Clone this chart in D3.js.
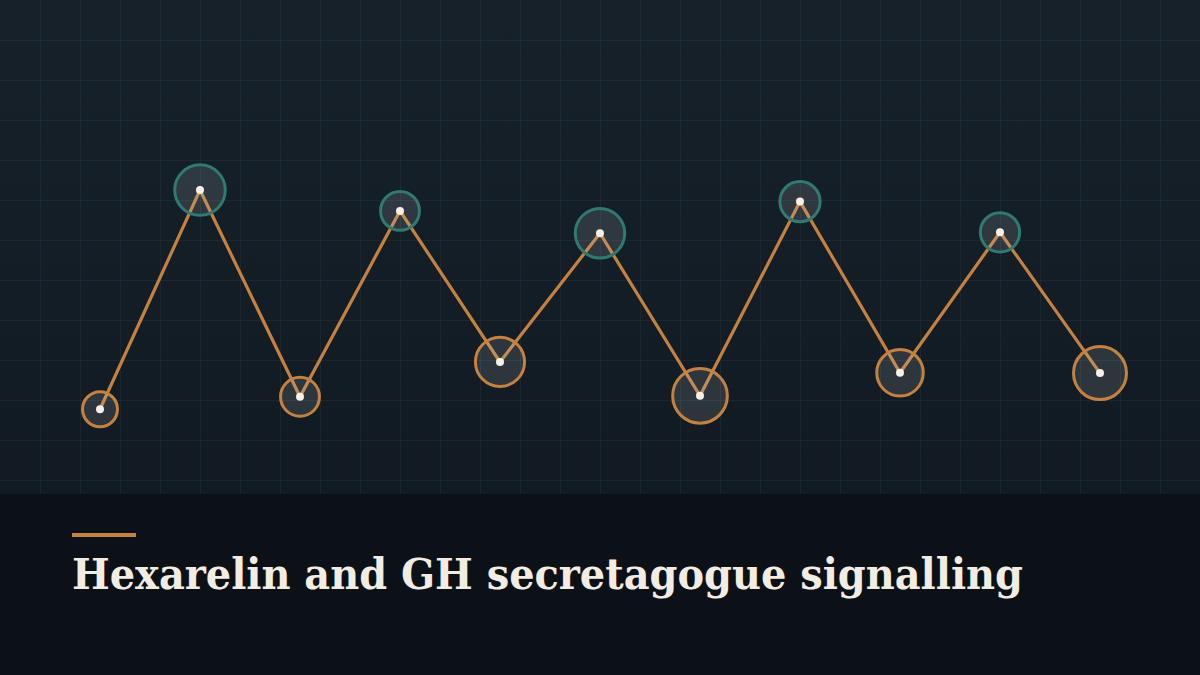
<!DOCTYPE html>
<html>
<head>
<meta charset="utf-8">
<script src="https://cdn.jsdelivr.net/npm/d3@7"></script>
<style>
  html, body { margin: 0; padding: 0; background: #0d1218; }
  svg { display: block; }
</style>
</head>
<body>
<div id="chart"></div>
<script>
var width = 1200,
    height = 675,
    bandTop = 494;

// data
var steps = [1, 2, 3, 4, 5, 6, 7, 8, 9, 10, 11];
var signal = [22.1, 90.6, 26.0, 84.1, 36.9, 77.1, 26.3, 87.0, 33.5, 77.4, 33.4];
var weight = [34, 71, 42, 42, 67, 68, 83, 45, 60, 43, 78];
var phase = ["trough", "peak", "trough", "peak", "trough", "peak", "trough", "peak", "trough", "peak", "trough"];
var title = "Hexarelin and GH secretagogue signalling";

var svg = d3.select("#chart").append("svg")
    .attr("width", width)
    .attr("height", height);

var defs = svg.append("defs");
var grad = defs.append("linearGradient")
    .attr("id", "bg")
    .attr("x1", 0).attr("y1", 0).attr("x2", 0).attr("y2", 1);
grad.append("stop").attr("offset", "0%").attr("stop-color", "#16212a");
grad.append("stop").attr("offset", "100%").attr("stop-color", "#10181f");

svg.append("rect")
    .attr("width", width)
    .attr("height", height)
    .attr("fill", "url(#bg)");

// grid every 40px
var grid = svg.append("g").attr("stroke", "rgba(140,180,195,0.07)").attr("stroke-width", 1);
grid.selectAll(".v")
    .data(d3.range(40, width, 40))
    .enter().append("line")
    .attr("x1", function (d) { return d + 0.5; })
    .attr("x2", function (d) { return d + 0.5; })
    .attr("y1", 0).attr("y2", height);
grid.selectAll(".h")
    .data(d3.range(40, height, 40))
    .enter().append("line")
    .attr("y1", function (d) { return d + 0.5; })
    .attr("y2", function (d) { return d + 0.5; })
    .attr("x1", 0).attr("x2", width);

// scales
var x = d3.scalePoint()
    .domain(steps)
    .range([100, 1100]);
var y = d3.scaleLinear()
    .domain([0, 100])
    .range([480, 160]);
var r = d3.scaleSqrt()
    .domain([0, 100])
    .range([0, 30]);
var stroke = d3.scaleOrdinal()
    .domain(["peak", "trough"])
    .range(["#2f7a71", "#c4813f"]);

var data = steps.map(function (s, i) {
    return { step: s, value: signal[i], weight: weight[i], phase: phase[i] };
});

var line = d3.line()
    .x(function (d) { return x(d.step); })
    .y(function (d) { return y(d.value); });

svg.append("path")
    .datum(data)
    .attr("fill", "none")
    .attr("stroke", "#c4813f")
    .attr("stroke-width", 3.2)
    .attr("stroke-linejoin", "miter")
    .attr("d", line);

svg.selectAll(".ring")
    .data(data)
    .enter().append("circle")
    .attr("class", "ring")
    .attr("cx", function (d) { return x(d.step); })
    .attr("cy", function (d) { return y(d.value); })
    .attr("r", function (d) { return r(d.weight); })
    .attr("fill", "rgba(200,205,210,0.15)")
    .attr("stroke", function (d) { return stroke(d.phase); })
    .attr("stroke-width", 3);

svg.selectAll(".dot")
    .data(data)
    .enter().append("circle")
    .attr("class", "dot")
    .attr("cx", function (d) { return x(d.step); })
    .attr("cy", function (d) { return y(d.value); })
    .attr("r", 4)
    .attr("fill", "#f6f0e6");

// caption band
svg.append("rect")
    .attr("y", bandTop)
    .attr("width", width)
    .attr("height", height - bandTop)
    .attr("fill", "rgba(12,17,22,0.9)");

svg.append("rect")
    .attr("x", 72)
    .attr("y", 533)
    .attr("width", 64)
    .attr("height", 4)
    .attr("fill", "#c4813f");

var t = svg.append("text")
    .attr("x", 72)
    .attr("y", 589)
    .attr("fill", "#f2ece2")
    .style("font-family", "'DejaVu Serif', Georgia, serif")
    .style("font-weight", "bold")
    .style("font-size", "42px")
    .text(title);

var w = t.node().getComputedTextLength();
if (Math.abs(w - 951) > 4) {
    t.attr("textLength", 951).attr("lengthAdjust", "spacingAndGlyphs");
}
</script>
</body>
</html>
